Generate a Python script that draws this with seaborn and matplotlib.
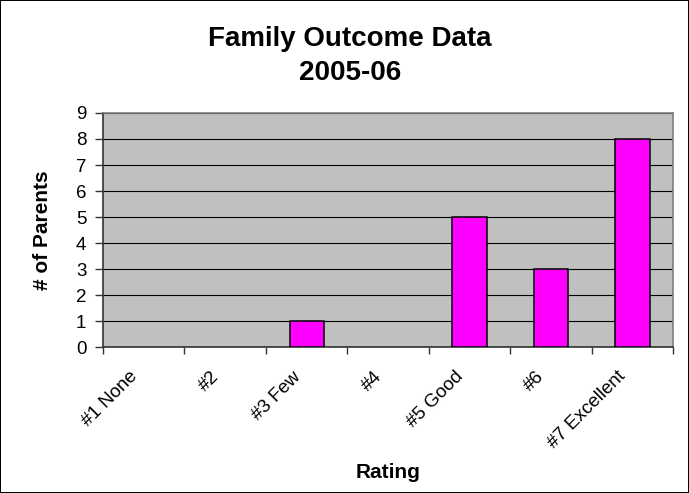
import matplotlib
matplotlib.use("Agg")
import matplotlib.pyplot as plt
import matplotlib.transforms as mtransforms
import seaborn as sns
import pandas as pd
from matplotlib.ticker import FixedLocator

# Parent ratings survey, 2005-06
ratings = ["#1 None", "#2", "#3 Few", "#4", "#5 Good", "#6", "#7 Excellent"]
parents = [0, 0, 1, 0, 5, 3, 8]
y_ticks = [0, 1, 2, 3, 4, 5, 6, 7, 8, 9]

df = pd.DataFrame({"Rating": ratings, "Parents": parents})

sns.set_theme(style="white")
plt.rcParams["font.family"] = ["Liberation Sans", "DejaVu Sans"]
plt.rcParams["text.color"] = "black"
plt.rcParams["xtick.color"] = "black"
plt.rcParams["ytick.color"] = "black"
plt.rcParams["axes.labelcolor"] = "black"

fig = plt.figure(figsize=(6.89, 4.93), dpi=100, linewidth=1.2, edgecolor="black")
ax = fig.add_axes([0.1495, 0.2961, 0.8275, 0.4747])
ax.set_facecolor("#C0C0C0")

sns.barplot(data=df, x="Rating", y="Parents", order=ratings, color="#FF00FF",
            saturation=1, width=0.42, edgecolor="black", linewidth=1.1, ax=ax, zorder=3)

# empty categories draw nothing
for patch in ax.patches:
    if patch.get_height() == 0:
        patch.set_visible(False)

ax.set_xlim(-0.5, len(ratings) - 0.5)
ax.set_ylim(0, 9)
ax.set_yticks(y_ticks)
ax.yaxis.grid(True, color="black", linewidth=0.8, zorder=1)
ax.set_axisbelow(True)

# tick marks sit on category boundaries; category names are placed beneath centres
ax.set_xticks(range(len(ratings)))
ax.set_xticklabels([])
ax.xaxis.set_minor_locator(FixedLocator([i - 0.5 for i in range(len(ratings) + 1)]))
ax.tick_params(axis="x", which="major", length=0)
ax.tick_params(axis="x", which="minor", length=5, width=1, color="#333333", bottom=True)
ax.tick_params(axis="y", which="major", length=6, width=1, color="#333333", left=True,
               labelsize=13.5, pad=6)

label_trans = (mtransforms.blended_transform_factory(ax.transData, ax.transAxes)
               + mtransforms.ScaledTranslation(-0.15, -0.21, fig.dpi_scale_trans))
for pos, name in enumerate(ratings):
    ax.text(pos, 0, name, transform=label_trans, rotation=45, ha="right", va="top",
            rotation_mode="anchor", fontsize=13.5)

for side in ["left", "bottom"]:
    ax.spines[side].set_color("#333333")
    ax.spines[side].set_linewidth(1.2)
for side in ["top", "right"]:
    ax.spines[side].set_color("#808080")
    ax.spines[side].set_linewidth(1.2)

ax.set_xlabel("Rating", fontsize=15, fontweight="bold")
ax.set_ylabel("# of Parents", fontsize=15, fontweight="bold")
ax.xaxis.set_label_coords(0.5, (1 - 472 / 493 - 0.2961) / 0.4747, transform=ax.transAxes)
ax.xaxis.label.set_va("center")
ax.yaxis.set_label_coords((42.5 / 689 - 0.1495) / 0.8275, 0.5, transform=ax.transAxes)
ax.yaxis.label.set_va("center")

fig.text(0.508, 1 - 38.5 / 493, "Family Outcome Data", ha="center", va="center",
         fontsize=20, fontweight="bold")
fig.text(0.508, 1 - 72.5 / 493, "2005-06", ha="center", va="center",
         fontsize=20, fontweight="bold")

fig.savefig("out.png", dpi=100, edgecolor=fig.get_edgecolor())
